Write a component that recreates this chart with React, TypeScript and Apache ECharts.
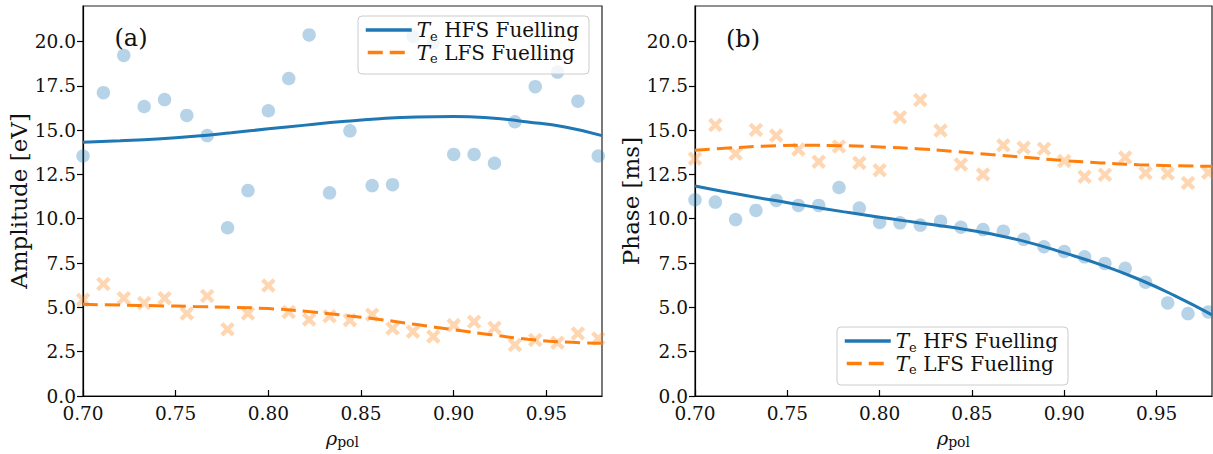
import React, { useEffect, useRef } from "react";
import * as echarts from "echarts";

// Radial positions of the measured points
const rho = [
  0.7, 0.711, 0.722, 0.733, 0.744, 0.756, 0.767, 0.778, 0.789, 0.8, 0.811, 0.822, 0.833,
  0.844, 0.856, 0.867, 0.878, 0.889, 0.9, 0.911, 0.922, 0.933, 0.944, 0.956, 0.967, 0.978,
];
// (a) amplitude [eV]
const ampHFS = [
  13.54, 17.11, 19.21, 16.33, 16.72, 15.83, 14.69, 9.49, 11.59, 16.09, 17.91, 20.37, 11.46,
  14.96, 11.87, 11.92, 20.28, 19.94, 13.63, 13.63, 13.13, 15.47, 17.45, 18.27, 16.63, 13.54,
];
const ampLFS = [
  5.43, 6.32, 5.52, 5.25, 5.52, 4.65, 5.64, 3.76, 4.65, 6.23, 4.74, 4.31, 4.5, 4.28, 4.59,
  3.81, 3.63, 3.35, 4.0, 4.19, 3.85, 2.88, 3.16, 3.01, 3.53, 3.25,
];
// (b) phase [ms]
const phaseHFS = [
  11.07, 10.94, 9.95, 10.47, 11.03, 10.75, 10.75, 11.76, 10.6, 9.79, 9.77, 9.64, 9.86, 9.52,
  9.39, 9.3, 8.84, 8.42, 8.15, 7.85, 7.48, 7.2, 6.42, 5.25, 4.65, 4.74,
];
const phaseLFS = [
  13.39, 15.29, 13.67, 15.01, 14.69, 13.9, 13.21, 14.08, 13.15, 12.74, 15.72, 16.7, 14.97,
  13.06, 12.5, 14.14, 14.01, 13.95, 13.26, 12.37, 12.48, 13.45, 12.58, 12.55, 12.02, 12.6,
];
// Fitted profiles
const fitRho = [0.7, 0.72, 0.74, 0.76, 0.78, 0.8, 0.82, 0.84, 0.86, 0.88, 0.9, 0.92, 0.94, 0.96, 0.98];
const ampHFSFit = [14.32, 14.4, 14.5, 14.65, 14.85, 15.07, 15.28, 15.48, 15.64, 15.74, 15.77, 15.68, 15.46, 15.17, 14.69];
const ampLFSFit = [5.17, 5.13, 5.09, 5.05, 5.0, 4.93, 4.78, 4.56, 4.32, 4.03, 3.74, 3.46, 3.2, 3.04, 2.97];
const phaseHFSFit = [11.85, 11.45, 11.08, 10.74, 10.4, 10.08, 9.79, 9.5, 9.15, 8.68, 8.07, 7.4, 6.6, 5.65, 4.58];
const phaseLFSFit = [13.86, 14.0, 14.1, 14.14, 14.12, 14.05, 13.95, 13.8, 13.62, 13.45, 13.28, 13.15, 13.05, 12.99, 12.96];

const xTicks = [0.7, 0.75, 0.8, 0.85, 0.9, 0.95];
const yTicks = [0, 2.5, 5, 7.5, 10, 12.5, 15, 17.5, 20];
const panelLabels = ["(a)", "(b)"];
const yNames = ["Amplitude [eV]", "Phase [ms]"];
const legendNames = ["HFS", "LFS"];

const SERIF = "'DejaVu Serif', serif";
const BLUE = "#1f77b4";
const ORANGE = "#ff7f0e";
const DASH = [15, 7];
const X_PATH =
  "path://M0,21L21,0L50,29L79,0L100,21L71,50L100,79L79,100L50,71L21,100L0,79L29,50Z";

const pairs = (xs: number[], ys: number[]) => xs.map((x, i) => [x, ys[i]]);

export default function App() {
  const ref = useRef<HTMLDivElement>(null);
  useEffect(() => {
    const chart = echarts.init(ref.current!, null, { renderer: "svg" });
    const gridsPos = [
      { left: 83, top: 6, width: 519, height: 394 },
      { left: 695, top: 6, width: 517, height: 394 },
    ];
    const legendPos = [
      { left: 358, top: 16 },
      { left: 837, top: 327 },
    ];
    const labelPos = [
      { x: 131, y: 38 },
      { x: 743, y: 39 },
    ];

    const xAxes = [0, 1].map((gi) => ({
      type: "value",
      gridIndex: gi,
      min: 0.7,
      max: 0.98,
      interval: 0.05,
      axisLine: { show: true, onZero: false, lineStyle: { color: "#000", width: 1.2 } },
      axisTick: { show: true, inside: true, length: 6, customValues: xTicks, lineStyle: { color: "#000", width: 1.2 } },
      axisLabel: {
        customValues: xTicks,
        formatter: (v: number) => v.toFixed(2),
        fontFamily: SERIF,
        fontSize: 18.5,
        color: "#111",
        margin: 8,
      },
      splitLine: { show: false },
      name: "{r|ρ}{s|pol}",
      nameLocation: "middle",
      nameGap: 31,
      nameTextStyle: {
        rich: {
          r: { fontFamily: SERIF, fontStyle: "italic", fontSize: 19, color: "#111", lineHeight: 22 },
          s: { fontFamily: SERIF, fontSize: 14, color: "#111", lineHeight: 12, verticalAlign: "bottom" },
        },
      },
    }));

    const yAxes = [0, 1].map((gi) => ({
      type: "value",
      gridIndex: gi,
      min: 0,
      max: 22,
      interval: 2.5,
      axisLine: { show: true, onZero: false, lineStyle: { color: "#000", width: 1.2 } },
      axisTick: { show: true, inside: false, length: 6, customValues: yTicks, lineStyle: { color: "#000", width: 1.2 } },
      axisLabel: {
        customValues: yTicks,
        formatter: (v: number) => v.toFixed(1),
        fontFamily: SERIF,
        fontSize: 18.5,
        color: "#111",
        margin: 7,
      },
      splitLine: { show: false },
      name: yNames[gi],
      nameLocation: "middle",
      nameGap: 51,
      nameTextStyle: { fontFamily: SERIF, fontSize: 23, color: "#111" },
    }));

    const legendRich = {
      t: { fontFamily: SERIF, fontStyle: "italic", fontSize: 20, color: "#111", lineHeight: 25 },
      s: { fontFamily: SERIF, fontSize: 13, color: "#111", lineHeight: 7, verticalAlign: "bottom" },
      n: { fontFamily: SERIF, fontSize: 20, color: "#111", lineHeight: 25 },
    };

    const legends = [0, 1].map((i) => ({
      ...legendPos[i],
      orient: "vertical",
      data: [
        { name: legendNames[0], itemStyle: { opacity: 0 }, lineStyle: { width: 3.5, type: "solid" } },
        { name: legendNames[1], itemStyle: { opacity: 0 }, lineStyle: { width: 3.5, type: DASH, dashOffset: -2 } },
      ],
      selectedMode: false,
      itemWidth: 46,
      itemHeight: 14,
      itemGap: 0,
      padding: [4, 10, 9, 6],
      backgroundColor: "rgba(255,255,255,0.8)",
      borderColor: "#cccccc",
      borderWidth: 1,
      borderRadius: 4,
      formatter: (name: string) => `{t|T}{s|e}{n| ${name} Fuelling}`,
      textStyle: { rich: legendRich },
      z: 10,
    }));

    const scatter = (gi: number, ys: number[], hfs: boolean) => ({
      type: "scatter",
      name: `pts-${gi}-${hfs ? "h" : "l"}`,
      xAxisIndex: gi,
      yAxisIndex: gi,
      data: pairs(rho, ys),
      symbol: hfs ? "circle" : X_PATH,
      symbolSize: hfs ? 13.5 : 14.5,
      itemStyle: { color: hfs ? "rgba(31,119,180,0.4)" : "rgba(255,127,14,0.4)" },
      z: 2,
    });
    const fitLine = (gi: number, ys: number[], hfs: boolean) => ({
      type: "line",
      name: hfs ? "HFS" : "LFS",
      xAxisIndex: gi,
      yAxisIndex: gi,
      data: pairs(fitRho, ys),
      smooth: true,
      symbol: "none",
      showSymbol: false,
      lineStyle: { color: hfs ? BLUE : ORANGE, width: 3, type: hfs ? "solid" : DASH, cap: "butt" },
      itemStyle: { color: hfs ? BLUE : ORANGE },
      z: 3,
    });

    chart.setOption({
      animation: false,
      backgroundColor: "#fff",
      grid: gridsPos.map((g) => ({ ...g, show: true, borderColor: "#222", borderWidth: 1.2, backgroundColor: "transparent" })),
      xAxis: xAxes,
      yAxis: yAxes,
      legend: legends,
      series: [
        scatter(0, ampHFS, true),
        scatter(0, ampLFS, false),
        fitLine(0, ampHFSFit, true),
        fitLine(0, ampLFSFit, false),
        scatter(1, phaseHFS, true),
        scatter(1, phaseLFS, false),
        fitLine(1, phaseHFSFit, true),
        fitLine(1, phaseLFSFit, false),
      ],
      graphic: panelLabels.map((t, i) => ({
        type: "text",
        x: labelPos[i].x,
        y: labelPos[i].y,
        style: {
          text: t,
          fontFamily: SERIF,
          fontSize: 24,
          fill: "#111",
          textAlign: "center",
          textVerticalAlign: "middle",
        },
        z: 5,
      })),
    });
    return () => chart.dispose();
  }, []);
  return <div ref={ref} style={{ position: "fixed", left: 0, top: 0, width: 1213, height: 454 }} />;
}
